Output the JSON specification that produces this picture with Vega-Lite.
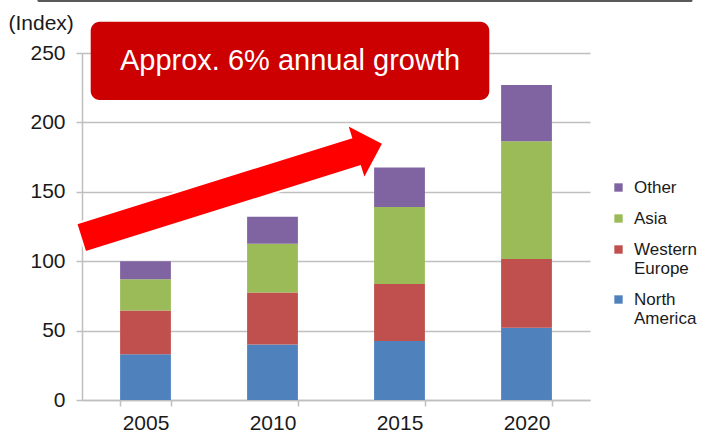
{
  "$schema": "https://vega.github.io/schema/vega-lite/v6.json",
  "width": 508,
  "height": 347,
  "autosize": {"type": "none"},
  "padding": {"left": 82, "top": 53, "right": 119, "bottom": 33},
  "background": "white",
  "config": {"font": "Liberation Sans", "view": {"stroke": null}},
  "datasets": {
    "sales": [
      {"year": "2005", "region": "North America", "stack": 1, "value": 33},
      {"year": "2005", "region": "Western Europe", "stack": 2, "value": 31.5},
      {"year": "2005", "region": "Asia", "stack": 3, "value": 22.5},
      {"year": "2005", "region": "Other", "stack": 4, "value": 13},
      {"year": "2010", "region": "North America", "stack": 1, "value": 40},
      {"year": "2010", "region": "Western Europe", "stack": 2, "value": 37.5},
      {"year": "2010", "region": "Asia", "stack": 3, "value": 35},
      {"year": "2010", "region": "Other", "stack": 4, "value": 19.5},
      {"year": "2015", "region": "North America", "stack": 1, "value": 42.5},
      {"year": "2015", "region": "Western Europe", "stack": 2, "value": 41},
      {"year": "2015", "region": "Asia", "stack": 3, "value": 55.5},
      {"year": "2015", "region": "Other", "stack": 4, "value": 28.5},
      {"year": "2020", "region": "North America", "stack": 1, "value": 52},
      {"year": "2020", "region": "Western Europe", "stack": 2, "value": 49.5},
      {"year": "2020", "region": "Asia", "stack": 3, "value": 85},
      {"year": "2020", "region": "Other", "stack": 4, "value": 40.5}
    ],
    "topline": [{"x1": -0.339, "x2": 4.795, "y": 287.8}],
    "arrow": [{"x": 1.1815, "y": 150.9}],
    "box": [{"x1": 0.0685, "x2": 3.207, "y1": 216.1, "y2": 272.6}],
    "note": [{"x": 1.638, "y": 237.7, "label": "Approx. 6% annual growth"}]
  },
  "layer": [
    {
      "data": {"name": "sales"},
      "mark": {"type": "bar"},
      "encoding": {
        "x": {
          "field": "year", "type": "ordinal",
          "scale": {"paddingInner": 0.6, "paddingOuter": 0.3},
          "axis": {"title": null, "labelAngle": 0, "labelFontSize": 21, "labelColor": "#1a1a1a", "tickBand": "extent", "tickSize": 6, "tickColor": "#BFBFBF", "tickWidth": 1.5, "domainColor": "#BFBFBF", "domainWidth": 1.5, "labelPadding": 6, "grid": false}
        },
        "y": {
          "field": "value", "type": "quantitative", "stack": "zero",
          "scale": {"domain": [0, 250], "nice": false},
          "axis": {"title": "(Index)", "titleAngle": 0, "titleAlign": "left", "titleBaseline": "alphabetic", "titleX": -74, "titleY": -24, "titleFontSize": 21, "titleFontWeight": "normal", "titleColor": "#1a1a1a", "values": [0, 50, 100, 150, 200, 250], "labelFontSize": 21, "labelColor": "#1a1a1a", "labelPadding": 11, "labelFlush": false, "tickSize": 6, "tickColor": "#BFBFBF", "tickWidth": 1.5, "domainColor": "#BFBFBF", "domainWidth": 1.5, "grid": true, "gridColor": "#BFBFBF", "gridWidth": 1.5}
        },
        "color": {
          "field": "region", "type": "nominal",
          "scale": {"domain": ["Other", "Asia", "Western Europe", "North America"], "range": ["#8064A2", "#9BBB59", "#C0504D", "#4F81BD"]},
          "legend": {"title": null, "orient": "none", "legendX": 528, "legendY": 126, "padding": 0, "symbolType": "square", "symbolSize": 70, "symbolStrokeWidth": 0, "labelFontSize": 17, "labelColor": "#1a1a1a", "labelOffset": 7, "rowPadding": 13, "labelLimit": 200, "labelExpr": "datum.label == 'Western Europe' ? ['Western', 'Europe'] : datum.label == 'North America' ? ['North', 'America'] : datum.label"}
        },
        "order": {"field": "stack", "type": "quantitative"}
      }
    },
    {
      "data": {"name": "topline"},
      "mark": {"type": "rule", "color": "#595959", "strokeWidth": 3, "strokeCap": "round"},
      "encoding": {
        "x": {"field": "x1", "type": "quantitative", "scale": {"domain": [0, 4], "nice": false, "zero": false}, "axis": null},
        "x2": {"field": "x2"},
        "y": {"field": "y", "type": "quantitative", "scale": {"domain": [0, 250], "nice": false}, "axis": null}
      }
    },
    {
      "data": {"name": "arrow"},
      "mark": {"type": "point", "shape": "M-1,-0.095L0.817,-0.095L0.817,-0.18L1,0L0.817,0.18L0.817,0.095L-1,0.095Z", "filled": true, "fill": "#FF0000", "stroke": "white", "strokeWidth": 2, "opacity": 1, "size": 100426, "angle": 342.65},
      "encoding": {
        "x": {"field": "x", "type": "quantitative", "scale": {"domain": [0, 4], "nice": false, "zero": false}, "axis": null},
        "y": {"field": "y", "type": "quantitative", "scale": {"domain": [0, 250], "nice": false}, "axis": null}
      }
    },
    {
      "data": {"name": "box"},
      "mark": {"type": "rect", "fill": "#CC0000", "cornerRadius": 9},
      "encoding": {
        "x": {"field": "x1", "type": "quantitative", "scale": {"domain": [0, 4], "nice": false, "zero": false}, "axis": null},
        "x2": {"field": "x2"},
        "y": {"field": "y1", "type": "quantitative", "scale": {"domain": [0, 250], "nice": false}, "axis": null},
        "y2": {"field": "y2"}
      }
    },
    {
      "data": {"name": "note"},
      "mark": {"type": "text", "color": "white", "fontSize": 29, "align": "center", "baseline": "alphabetic"},
      "encoding": {
        "x": {"field": "x", "type": "quantitative", "scale": {"domain": [0, 4], "nice": false, "zero": false}, "axis": null},
        "y": {"field": "y", "type": "quantitative", "scale": {"domain": [0, 250], "nice": false}, "axis": null},
        "text": {"field": "label"}
      }
    }
  ],
  "resolve": {"scale": {"x": "independent", "y": "independent"}}
}
